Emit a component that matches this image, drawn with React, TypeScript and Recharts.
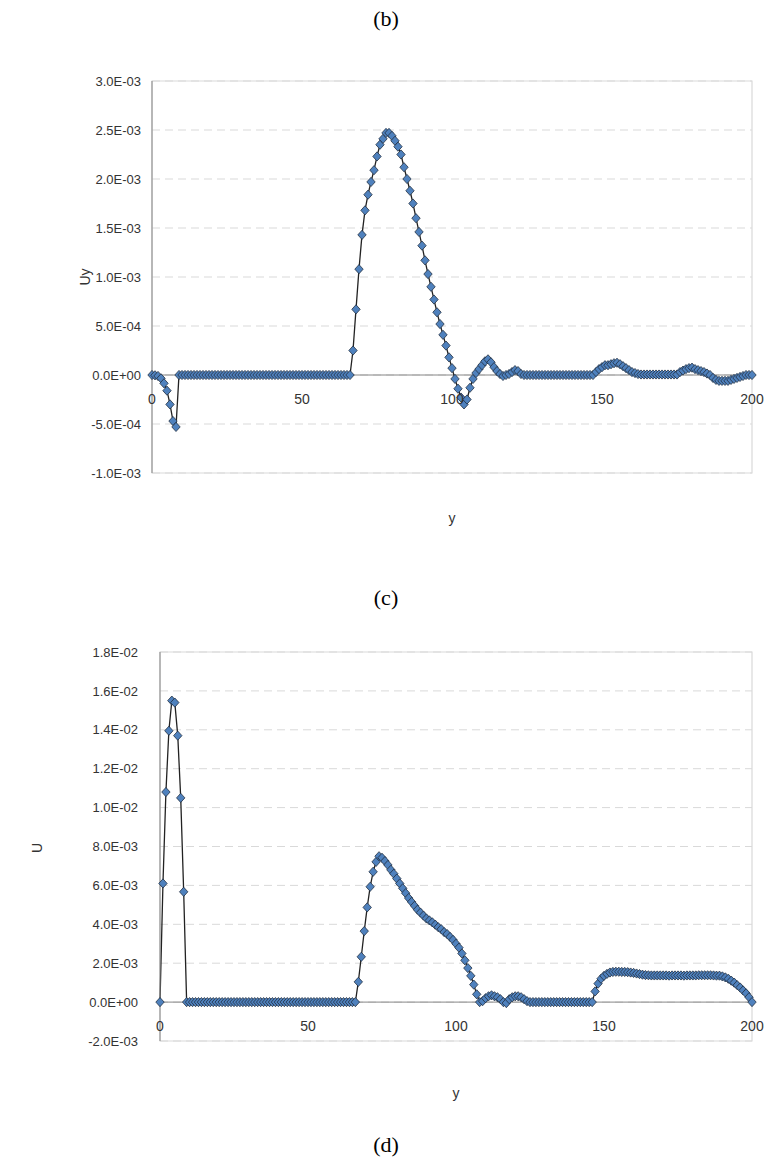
import React from "react";
import {
  LineChart,
  Line,
  XAxis,
  YAxis,
  CartesianGrid,
  ReferenceLine,
  ReferenceArea,
} from "recharts";

// grid positions along y (0..200, step 1)
const POSITIONS = Array.from({ length: 201 }, (_, i) => i);

const X_TICKS = [0, 50, 100, 150, 200];

const UY_TICKS = [-1e-3, -5e-4, 0, 5e-4, 1e-3, 1.5e-3, 2e-3, 2.5e-3, 3e-3];
const U_TICKS = [-2e-3, 0, 2e-3, 4e-3, 6e-3, 8e-3, 1e-2, 1.2e-2, 1.4e-2, 1.6e-2, 1.8e-2];

// Uy, one value per position
const UY_VALUES = [
  0, -3e-6, -1e-5, -3.4e-5, -8.5e-5, -1.6e-4, -3.0e-4, -4.7e-4, -5.3e-4, 0, // 0
  0, 0, 0, 0, 0, 0, 0, 0, 0, 0, // 10
  0, 0, 0, 0, 0, 0, 0, 0, 0, 0, // 20
  0, 0, 0, 0, 0, 0, 0, 0, 0, 0, // 30
  0, 0, 0, 0, 0, 0, 0, 0, 0, 0, // 40
  0, 0, 0, 0, 0, 0, 0, 0, 0, 0, // 50
  0, 0, 0, 0, 0, 0, 0, 2.5e-4, 6.7e-4, 1.08e-3, // 60
  1.43e-3, 1.68e-3, 1.84e-3, 1.97e-3, 2.09e-3, 2.23e-3, 2.35e-3, 2.41e-3, 2.47e-3, 2.47e-3, // 70
  2.44e-3, 2.39e-3, 2.33e-3, 2.25e-3, 2.12e-3, 2.0e-3, 1.88e-3, 1.75e-3, 1.6e-3, 1.46e-3, // 80
  1.32e-3, 1.17e-3, 1.03e-3, 9.0e-4, 7.7e-4, 6.4e-4, 5.2e-4, 4.1e-4, 3.0e-4, 1.8e-4, // 90
  7e-5, -4e-5, -1.4e-4, -2.3e-4, -3.0e-4, -2.5e-4, -1.3e-4, -4e-5, 2e-5, 6e-5, // 100
  1.0e-4, 1.4e-4, 1.6e-4, 1.3e-4, 8e-5, 4e-5, 1e-5, -1e-5, 0, 1e-5, // 110
  3e-5, 5e-5, 4e-5, 1e-5, 0, 0, 0, 0, 0, 0, // 120
  0, 0, 0, 0, 0, 0, 0, 0, 0, 0, // 130
  0, 0, 0, 0, 0, 0, 0, 0, 3e-5, 6e-5, // 140
  8e-5, 1.0e-4, 1.0e-4, 1.1e-4, 1.2e-4, 1.25e-4, 1.1e-4, 9e-5, 7e-5, 5e-5, // 150
  3e-5, 2e-5, 1e-5, 5e-6, 5e-6, 5e-6, 5e-6, 5e-6, 5e-6, 5e-6, // 160
  5e-6, 5e-6, 5e-6, 5e-6, 5e-6, 5e-6, 3e-5, 4.5e-5, 6e-5, 7e-5, // 170
  7.5e-5, 6e-5, 5e-5, 4e-5, 3e-5, 1.5e-5, 0, -3e-5, -5e-5, -6e-5, // 180
  -6e-5, -6e-5, -6e-5, -5e-5, -4e-5, -3e-5, -2e-5, -1e-5, 0, 0, // 190
  0, // 200
];

// U, one value per position
const U_VALUES = [
  0, 6.1e-3, 1.08e-2, 1.395e-2, 1.55e-2, 1.54e-2, 1.37e-2, 1.05e-2, 5.67e-3, 0, // 0
  0, 0, 0, 0, 0, 0, 0, 0, 0, 0, // 10
  0, 0, 0, 0, 0, 0, 0, 0, 0, 0, // 20
  0, 0, 0, 0, 0, 0, 0, 0, 0, 0, // 30
  0, 0, 0, 0, 0, 0, 0, 0, 0, 0, // 40
  0, 0, 0, 0, 0, 0, 0, 0, 0, 0, // 50
  0, 0, 0, 0, 0, 0, 0, 1.04e-3, 2.33e-3, 3.65e-3, // 60
  4.87e-3, 5.93e-3, 6.7e-3, 7.21e-3, 7.5e-3, 7.42e-3, 7.25e-3, 7.05e-3, 6.8e-3, 6.6e-3, // 70
  6.35e-3, 6.1e-3, 5.85e-3, 5.6e-3, 5.35e-3, 5.15e-3, 4.95e-3, 4.75e-3, 4.6e-3, 4.45e-3, // 80
  4.3e-3, 4.2e-3, 4.1e-3, 3.98e-3, 3.85e-3, 3.75e-3, 3.6e-3, 3.5e-3, 3.35e-3, 3.2e-3, // 90
  3.0e-3, 2.8e-3, 2.5e-3, 2.15e-3, 1.75e-3, 1.35e-3, 9e-4, 4e-4, 0, 5e-5, // 100
  2e-4, 3e-4, 3.5e-4, 3e-4, 2.5e-4, 1.5e-4, 0, -5e-5, 1.5e-4, 2.5e-4, // 110
  3e-4, 3e-4, 2.5e-4, 1.5e-4, 5e-5, 0, 0, 0, 0, 0, // 120
  0, 0, 0, 0, 0, 0, 0, 0, 0, 0, // 130
  0, 0, 0, 0, 0, 0, 0, 5.5e-4, 9.5e-4, 1.2e-3, // 140
  1.35e-3, 1.45e-3, 1.52e-3, 1.55e-3, 1.56e-3, 1.56e-3, 1.55e-3, 1.55e-3, 1.54e-3, 1.52e-3, // 150
  1.5e-3, 1.47e-3, 1.44e-3, 1.41e-3, 1.39e-3, 1.38e-3, 1.37e-3, 1.37e-3, 1.37e-3, 1.37e-3, // 160
  1.37e-3, 1.37e-3, 1.36e-3, 1.37e-3, 1.37e-3, 1.37e-3, 1.37e-3, 1.36e-3, 1.37e-3, 1.37e-3, // 170
  1.37e-3, 1.37e-3, 1.38e-3, 1.38e-3, 1.38e-3, 1.38e-3, 1.38e-3, 1.37e-3, 1.36e-3, 1.36e-3, // 180
  1.32e-3, 1.27e-3, 1.2e-3, 1.1e-3, 1.0e-3, 8.7e-4, 7.5e-4, 6e-4, 4.5e-4, 2.5e-4, // 190
  0, // 200
];

const SANS = "'Liberation Sans', Arial, sans-serif";
const SERIF = "'Liberation Serif', 'Times New Roman', serif";
const TICK_FONT = 13;
const TEXT = "#333";
const PAGE_W = 771;
const PLOT_RIGHT = 752;

// Excel style scientific labels: 2.5E-03, 0.0E+00
const sci = (v: number) => {
  if (v === 0) return "0.0E+00";
  const [m, e] = v.toExponential(1).split("e");
  const n = Number(e);
  return `${m}E${n < 0 ? "-" : "+"}${String(Math.abs(n)).padStart(2, "0")}`;
};

const Diamond = (props: any) => {
  const { cx, cy, index } = props;
  if (cx == null || cy == null) return <g key={index} />;
  return (
    <path
      key={index}
      d={`M${cx},${cy - 4.6}L${cx + 4.2},${cy}L${cx},${cy + 4.6}L${cx - 4.2},${cy}Z`}
      fill="#4f81bd"
      stroke="#1d2a3a"
      strokeWidth={0.75}
    />
  );
};

interface PanelProps {
  values: number[];
  ticks: number[];
  top: number;
  height: number;
  plotTop: number;
  plotBottom: number;
  plotLeft: number;
  labelGap: number;
}

const Panel = ({ values, ticks, top, height, plotTop, plotBottom, plotLeft, labelGap }: PanelProps) => {
  const data = POSITIONS.map((p, i) => ({ y: p, v: values[i] }));
  const yMin = ticks[0];
  const yMax = ticks[ticks.length - 1];
  // x labels sit just under the zero line, where the horizontal axis crosses
  const zeroY = plotTop + ((plotBottom - plotTop) * yMax) / (yMax - yMin);

  const XTick = (props: any) => (
    <text
      x={props.x}
      y={zeroY + 19}
      dy="0.71em"
      textAnchor="middle"
      fontFamily={SANS}
      fontSize={TICK_FONT + 1}
      fill={TEXT}
    >
      {props.payload.value}
    </text>
  );

  return (
    <div style={{ position: "absolute", left: 0, top }}>
      <LineChart
        width={PAGE_W}
        height={height}
        data={data}
        margin={{ top: plotTop, right: PAGE_W - PLOT_RIGHT, bottom: 0, left: 0 }}
      >
        <CartesianGrid vertical={false} stroke="#d9d9d9" strokeDasharray="8 5" />
        <ReferenceArea
          x1={0}
          x2={200}
          y1={yMin}
          y2={yMax}
          fill="none"
          stroke="#d9d9d9"
          strokeWidth={1.2}
        />
        <XAxis
          dataKey="y"
          type="number"
          domain={[0, 200]}
          ticks={X_TICKS}
          interval={0}
          height={height - plotBottom}
          axisLine={false}
          tickLine={false}
          tick={XTick}
        />
        <YAxis
          type="number"
          domain={[yMin, yMax]}
          ticks={ticks}
          interval={0}
          width={plotLeft}
          tickFormatter={sci}
          axisLine={{ stroke: "#868686" }}
          tickLine={false}
          tickSize={0}
          tickMargin={labelGap}
          tick={{ fontFamily: SANS, fontSize: TICK_FONT, fill: TEXT }}
        />
        <ReferenceLine y={0} stroke="#868686" strokeWidth={1} />
        <Line
          dataKey="v"
          type="linear"
          stroke="#222"
          strokeWidth={1.3}
          dot={Diamond}
          activeDot={false}
          isAnimationActive={false}
        />
      </LineChart>
    </div>
  );
};

const Caption = ({ text, x, y, serif, size, rotate }: any) => (
  <div
    style={{
      position: "absolute",
      left: x,
      top: y,
      transform: `translate(-50%, -50%)${rotate ? " rotate(-90deg)" : ""}`,
      fontFamily: serif ? SERIF : SANS,
      fontSize: size,
      color: serif ? "#000" : TEXT,
      whiteSpace: "nowrap",
      lineHeight: 1,
    }}
  >
    {text}
  </div>
);

export default function App() {
  return (
    <div
      style={{
        position: "absolute",
        left: 0,
        top: 0,
        width: PAGE_W,
        height: 1162,
        background: "#fff",
        overflow: "hidden",
      }}
    >
      <Caption text="(b)" x={386} y={19} serif size={22} />

      <Panel
        values={UY_VALUES}
        ticks={UY_TICKS}
        top={0}
        height={540}
        plotTop={81}
        plotBottom={473}
        plotLeft={152}
        labelGap={11}
      />
      <Caption text="Uy" x={85} y={277} size={14} rotate />
      <Caption text="y" x={452} y={518} size={14} />

      <Caption text="(c)" x={386} y={598} serif size={22} />

      <Panel
        values={U_VALUES}
        ticks={U_TICKS}
        top={600}
        height={520}
        plotTop={52}
        plotBottom={441}
        plotLeft={160}
        labelGap={22}
      />
      <Caption text="U" x={37} y={848} size={14} rotate />
      <Caption text="y" x={456} y={1093} size={14} />

      <Caption text="(d)" x={386} y={1145} serif size={22} />
    </div>
  );
}
